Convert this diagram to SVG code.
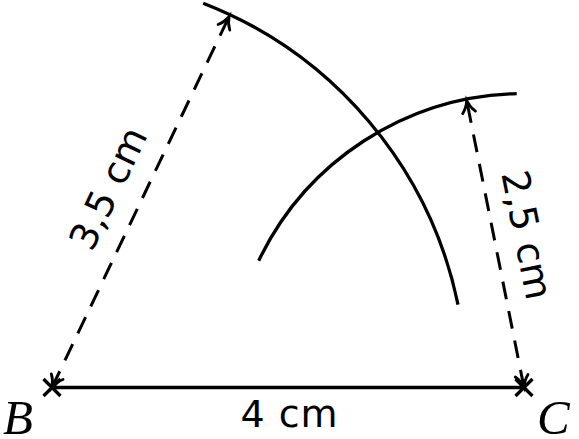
<svg xmlns="http://www.w3.org/2000/svg" width="579" height="439" viewBox="0 0 579 439">
  <style>
    .solid { fill: none; stroke: #000; stroke-width: 3.3; stroke-linecap: butt; }
    .dash { fill: none; stroke: #000; stroke-width: 3; stroke-dasharray: 18 12; marker-start: url(#tip); marker-end: url(#tip); }
    .lbl { font-family: "DejaVu Sans", "Liberation Sans", sans-serif; font-size: 38px; fill: #000; }
    .pt { font-family: "Liberation Serif", serif; font-style: italic; font-size: 49px; fill: #000; }
  </style>
  <defs>
    <marker id="tip" markerUnits="userSpaceOnUse" orient="auto-start-reverse" refX="0" refY="0" markerWidth="30" markerHeight="30" overflow="visible">
      <path d="M -12 -6.5 C -8 -2.7 -3 -0.8 0 0 C -3 0.8 -8 2.7 -12 6.5" fill="none" stroke="#000" stroke-width="2.8" stroke-linecap="round" stroke-dasharray="none"/>
    </marker>
  </defs>
  <rect width="579" height="439" fill="#fff"/>
  <g id="connectors">
    <line id="BC" class="solid" x1="52" y1="387.5" x2="524" y2="387.5"/>
    <line id="dimB" class="dash" x1="52" y1="387.5" x2="229.1" y2="16.5"/>
    <line id="dimC" class="dash" x1="524" y1="387.5" x2="466.7" y2="100.6"/>
  </g>
  <g id="arcB">
    <path class="solid" d="M 203.2 3.2 A 413 413 0 0 1 458 304.6"/>
  </g>
  <g id="arcC">
    <path class="solid" d="M 258.7 260.7 A 294 294 0 0 1 516.7 93.6"/>
  </g>
  <g id="pointB">
    <path class="solid" d="M 43.5 379 L 60.5 396 M 60.5 379 L 43.5 396"/>
    <text class="pt" x="3" y="434">B</text>
  </g>
  <g id="pointC">
    <path class="solid" d="M 515.5 379 L 532.5 396 M 532.5 379 L 515.5 396"/>
    <text class="pt" x="537" y="434">C</text>
  </g>
  <g id="labels">
    <text class="lbl" x="289" y="426.7" text-anchor="middle" textLength="97" lengthAdjust="spacing">4 cm</text>
    <text class="lbl" text-anchor="middle" transform="translate(120 194) rotate(-64.5)">3,5 cm</text>
    <text class="lbl" text-anchor="middle" transform="translate(514 237.5) rotate(78.7)">2,5 cm</text>
  </g>
</svg>
